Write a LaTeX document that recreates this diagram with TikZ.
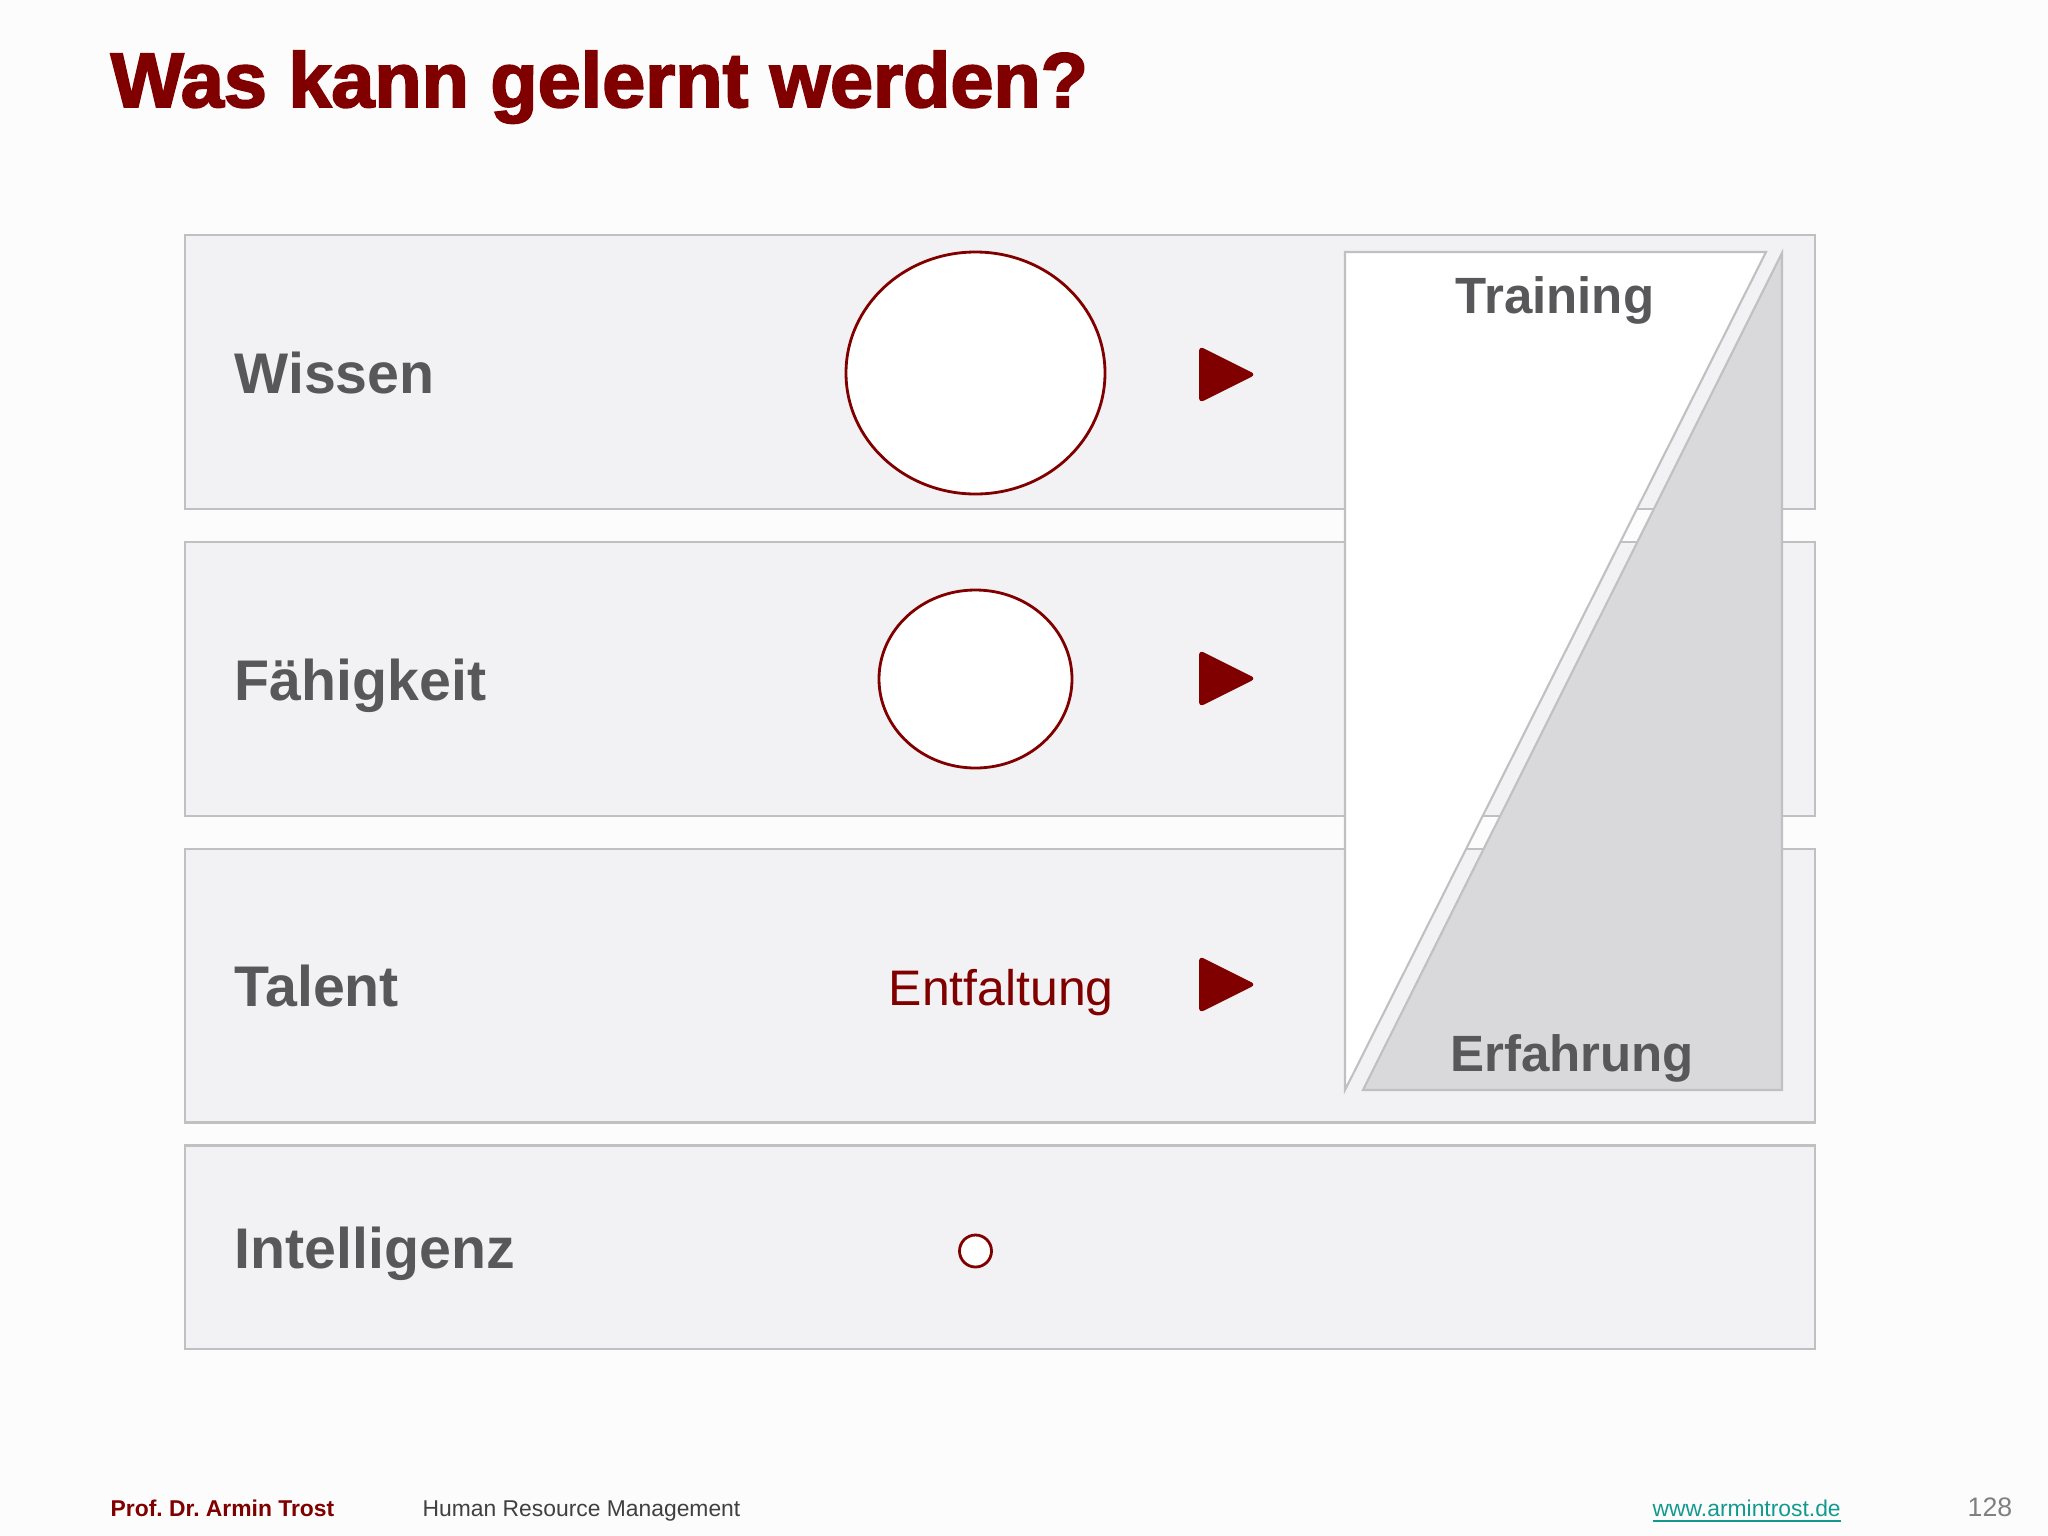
\documentclass[tikz,border=0pt]{standalone}
\usepackage{fontspec}
\setmainfont{Liberation Sans}
\newfontfamily\heavytitle{Liberation Sans Bold}[FakeBold=2.5]
\usetikzlibrary{positioning}
\usepackage{xcolor}
\frenchspacing
\definecolor{slidered}{HTML}{800000}
\definecolor{labelgray}{HTML}{58575A}
\definecolor{boxfill}{HTML}{F2F1F3}
\definecolor{boxline}{HTML}{C0BFC2}
\definecolor{wedgegray}{HTML}{D9D8DB}
\definecolor{pagebg}{HTML}{FDFCFD}
\definecolor{linkteal}{HTML}{139A90}
\definecolor{pagegray}{HTML}{808080}

\begin{document}
\begin{tikzpicture}[x=0.01cm, y=-0.01cm,
        rowbox/.style={draw=boxline, line width=0.6pt, fill=boxfill, minimum width=16.285cm, inner sep=0pt, outer sep=0pt},
        rowlabel/.style={anchor=base west, inner sep=0pt, text=labelgray, font=\fontsize{16.3}{19}\selectfont\bfseries},
        panellabel/.style={anchor=base, inner sep=0pt, text=labelgray, font=\fontsize{14.5}{17}\selectfont\bfseries},
        ring/.style={draw=slidered, line width=0.8pt, fill=white},
        footer/.style={anchor=base west, inner sep=0pt, font=\fontsize{6.5}{8}\selectfont}]
        % page
        \useasboundingbox (0,0) rectangle (2048,1536);
        \fill[pagebg] (0,0) rectangle (2048,1536);
        % title
        \node[anchor=base west, inner sep=0pt, text=slidered, font=\fontsize{22}{26}\selectfont\heavytitle] (title) at (110,107) {Was kann gelernt werden?};
        % rows
        \node[rowbox, minimum height=2.74cm] (wissen) at (1000,372) {};
        \node[rowbox, minimum height=2.74cm, below=0.33cm of wissen] (faehigkeit) {};
        \node[rowbox, minimum height=2.73cm, below=0.33cm of faehigkeit] (talent) {};
        \node[rowbox, minimum height=2.03cm, below=0.23cm of talent] (intelligenz) {};
        \node[rowlabel] (wissenlabel) at ([xshift=0.485cm, yshift=-0.21cm]wissen.west) {Wissen};
        \node[rowlabel] (faehigkeitlabel) at ([xshift=0.485cm, yshift=-0.21cm]faehigkeit.west) {Fähigkeit};
        \node[rowlabel] (talentlabel) at ([xshift=0.485cm, yshift=-0.21cm]talent.west) {Talent};
        \node[rowlabel] (intelligenzlabel) at ([xshift=0.485cm, yshift=-0.21cm]intelligenz.west) {Intelligenz};
        % circles
        \draw[ring] (975.5,373) ellipse [x radius=129.5, y radius=121];
        \draw[ring] (975.5,679) ellipse [x radius=96.5, y radius=89];
        \draw[ring] (975.5,1251) ellipse [x radius=16, y radius=16];
        \node[anchor=base west, inner sep=0pt, text=slidered, font=\fontsize{14.2}{17}\selectfont] (entfaltung) at (888,1005) {Entfaltung};
        % arrows
        \fill[slidered, rounded corners=1.5pt] (1199,346) -- (1256,374.5) -- (1199,403) -- cycle;
        \fill[slidered, rounded corners=1.5pt] (1199,650) -- (1256,678.5) -- (1199,707) -- cycle;
        \fill[slidered, rounded corners=1.5pt] (1199,956) -- (1256,984.5) -- (1199,1013) -- cycle;
        % training / experience
        \filldraw[draw=boxline, line width=0.6pt, fill=white] (1345,252) -- (1766,252) -- (1345,1090) -- cycle;
        \filldraw[draw=boxline, line width=0.6pt, fill=wedgegray] (1782,253) -- (1782,1090) -- (1363,1090) -- cycle;
        \node[panellabel] (training) at (1555,313) {Training};
        \node[panellabel] (erfahrung) at (1572,1071) {Erfahrung};
        % footer
        \node[footer, text=slidered, font=\fontsize{6.5}{8}\selectfont\bfseries] (author) at (110,1516) {Prof. Dr. Armin Trost};
        \node[footer, text=black!75] (course) at (422,1516) {Human Resource Management};
        \node[footer, text=linkteal] (website) at (1652,1516) {\underline{www.armintrost.de}};
        \node[footer, text=pagegray, font=\fontsize{7.6}{9}\selectfont] (pagenum) at (1967,1516) {128};
\end{tikzpicture}
\end{document}
